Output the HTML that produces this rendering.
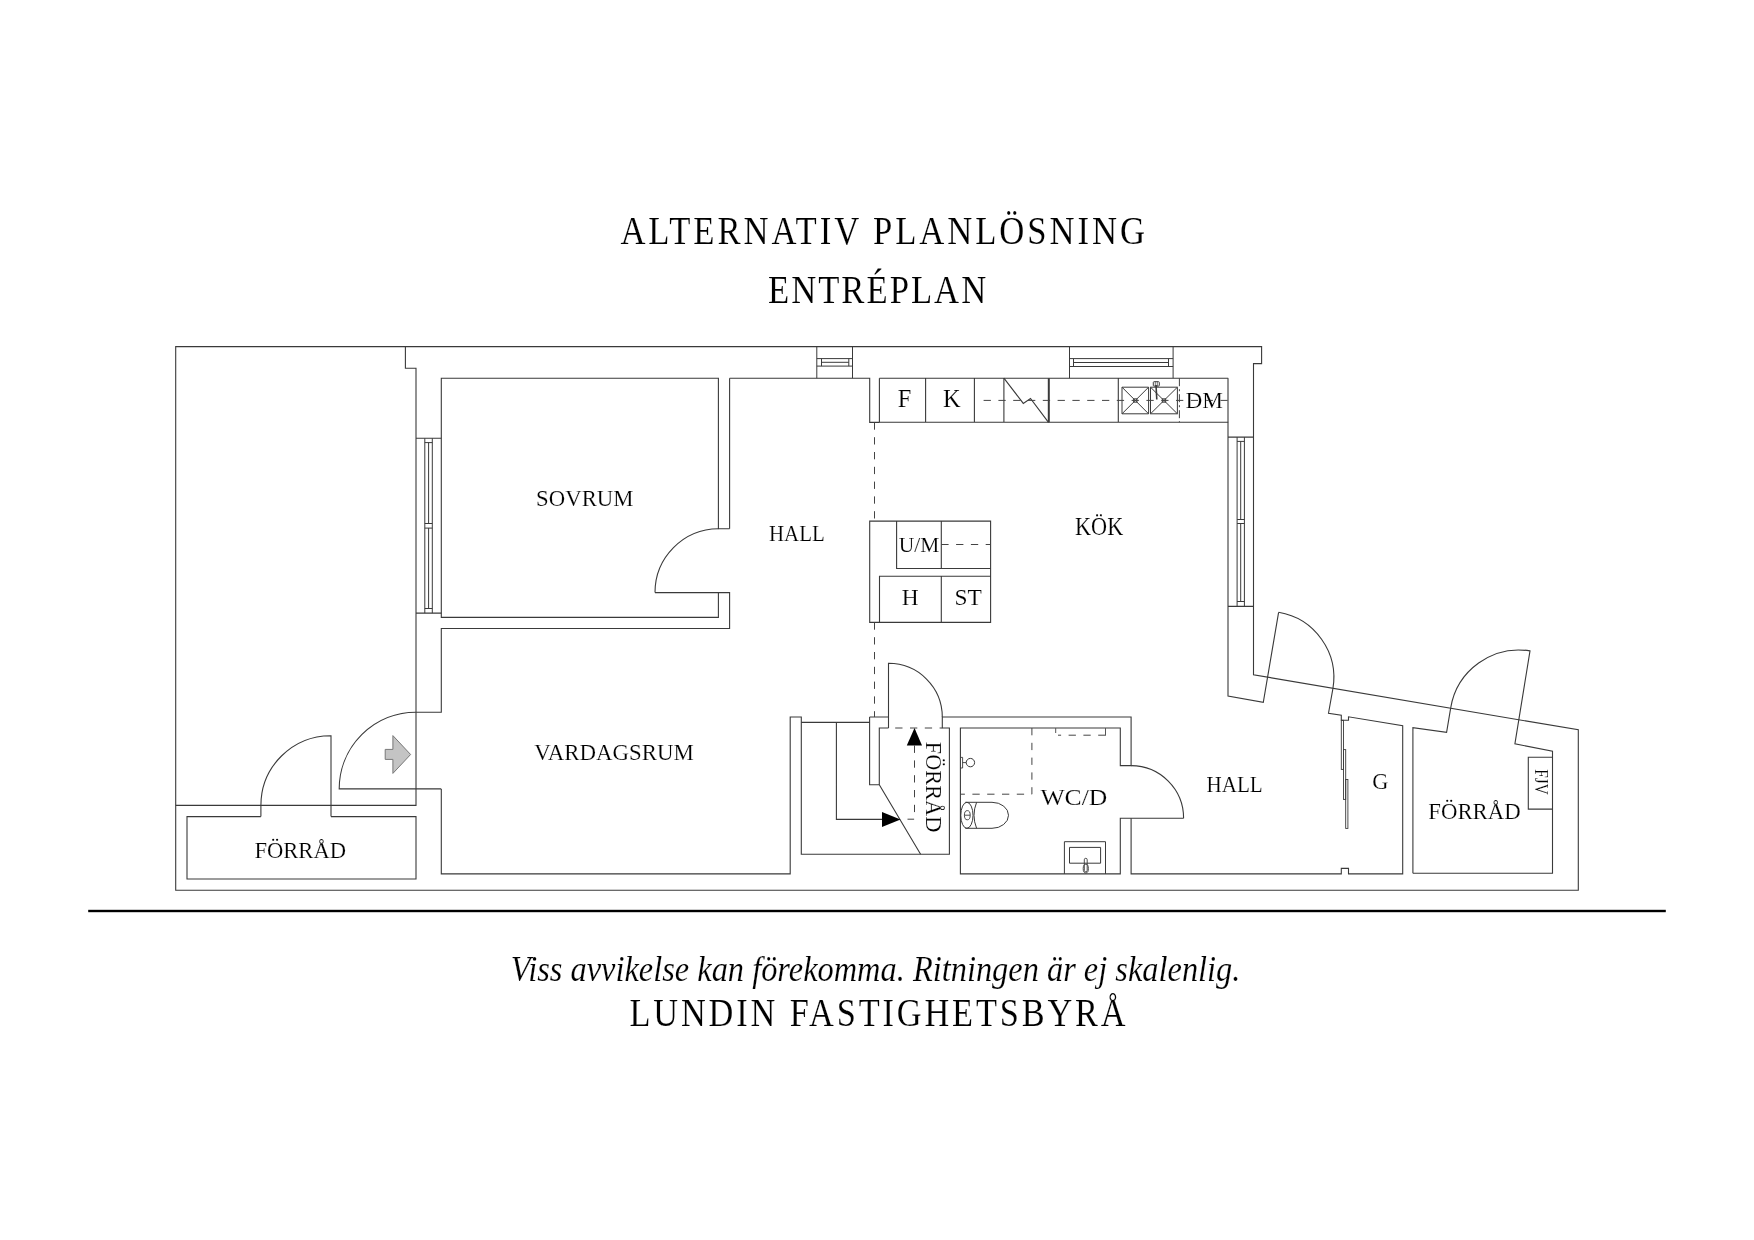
<!DOCTYPE html>
<html><head><meta charset="utf-8"><title>Planlösning</title>
<style>
html,body{margin:0;padding:0;background:#fff;width:1754px;height:1240px;overflow:hidden;}
svg{display:block;filter:grayscale(1);}
text{font-family:"Liberation Serif",serif;fill:#000;stroke:#fff;stroke-width:0.15px;}
.thin{opacity:0.999;}
</style></head><body>
<svg width="1754" height="1240" viewBox="0 0 1754 1240">
<rect x="0" y="0" width="1754" height="1240" fill="#fff"/>

<!-- TITLE -->
<text transform="scale(0.88,1)" x="705.0" y="244.2" font-size="39.4" textLength="596.1" lengthAdjust="spacing">ALTERNATIV PLANLÖSNING</text>
<text transform="scale(0.88,1)" x="872.7" y="303.4" font-size="39.4" textLength="248.0" lengthAdjust="spacing">ENTRÉPLAN</text>

<!-- WALLS -->
<g id="walls" fill="none" stroke="#3a3a3a" stroke-width="1.1" stroke-linejoin="miter">
<path d="M175.7,890.3 V346.6 H1261.6 V363.6 H1253.5 V674.8 L1578.3,729.8 V890.3 Z"/>
<path d="M405.4,346.6 V368.2 H416 V805.4 H175.7"/>
<!-- left forrad -->
<path d="M260.9,816.6 H187 V879 H416 V816.6 H331"/>
<path d="M331,816.6 V735.7 A69.8,69.8 0 0 0 260.9,805.4 V816.6"/>
<!-- entrance door -->
<path d="M441.3,788.9 H339.2 A76.8,76.8 0 0 1 416,712.2"/>
<!-- sovrum -->
<path d="M729.6,528.7 H718.4 V378.2 H441.3 V617.4 H718.4 V592.6"/>
<path d="M729.6,378.2 V528.7"/>
<path d="M655,592.6 A63.8,63.8 0 0 1 718.4,528.7"/>
<path d="M416,712.2 H441.3 V628.5 H729.6 V592.6 H655"/>
<!-- hall top -->
<path d="M729.6,378.2 H869.7 V422.4 H879.4"/>
<!-- left window -->
<path d="M416,438.3 H441.3 M416,613.1 H441.3"/>
<path d="M424.8,438.3 V613.1 M432.3,438.3 V613.1 M428.6,442.6 V523.5 M428.6,528.1 V608.5 M424.8,442.6 H432.3 M424.8,523.5 H432.3 M424.8,528.1 H432.3 M424.8,608.5 H432.3" stroke-width="1"/>
<!-- vardagsrum / stair / wc -->
<path d="M441.3,788.9 V873.9 H790.2 V717 H801.3 V854.3 H949.4 V728 H942.3 V717 H1131.1 V765.6 H1120.3 V728 H960.4 V873.9 H1120.3 V818.3 H1183.6"/>
<path d="M1131.1,765.6 A52.6,52.6 0 0 1 1183.6,818.3"/>
<path d="M1131.1,818.3 V873.9 H1341.3 V868.4 H1348.5 V873.9 H1402.7 V725.8 L1348.5,716.8 V720.3 H1341.3 V715.3 L1328.5,713.2 L1332.9,688.7"/>
<!-- right hall walls -->
<path d="M1228,378.2 V696 L1263.3,702.3 L1278.6,612.3"/>
<path d="M1278.6,612.3 A66.3,66.3 0 0 1 1332.9,688.7"/>
<!-- kitchen window -->
<path d="M1228,437.1 H1253.5 M1228,606.4 H1253.5"/>
<path d="M1237.1,437.1 V606.4 M1244.4,437.1 V606.4 M1240.7,441.4 V519.5 M1240.7,523.5 V601.5 M1237.1,441.4 H1244.4 M1237.1,519.5 H1244.4 M1237.1,523.5 H1244.4 M1237.1,601.5 H1244.4" stroke-width="1"/>
<!-- right forrad -->
<path d="M1412.9,873.2 V727.7 L1446.6,732.3 L1450.7,707.8"/>
<path d="M1450.7,707.8 A69.3,69.3 0 0 1 1530,650.9 L1514.9,743.8 L1552.5,751.2 V873.2 H1412.9"/>
<path d="M1552.5,757.3 H1528.3 V809.1 H1552.5"/>
<!-- G sliding doors -->
<rect x="1341.3" y="720.3" width="2.2" height="49.1" stroke-width="0.9"/>
<rect x="1343.5" y="749.6" width="2.2" height="49.8" stroke-width="0.9"/>
<rect x="1345.7" y="779.5" width="2.2" height="48.9" stroke-width="0.9"/>
<!-- top windows -->
<path d="M816.8,346.6 V378.2 M852.5,346.6 V378.2 M816.8,358.6 H852.5 M816.8,366.1 H852.5 M821.5,362.3 H848.8 M821.5,358.6 V366.1 M848.8,358.6 V366.1" stroke-width="1"/>
<path d="M1069.5,346.6 V378.2 M1173.1,346.6 V378.2 M1069.5,358.6 H1173.1 M1069.5,366.5 H1173.1 M1073.5,362.5 H1168.5 M1073.5,358.6 V366.5 M1168.5,358.6 V366.5" stroke-width="1"/>
<!-- counter -->
<path d="M879.4,378.2 H1228.2 M879.4,378.2 V422.3 H1228.2 M925.6,378.2 V422.3 M974.4,378.2 V422.3 M1003.9,378.2 V422.3 M1118.3,378.2 V422.3"/>
<path d="M1048.8,378.2 V422.3" stroke-width="2"/>
<path d="M1003.9,378.2 L1023.3,403.4 L1030.5,398.5 L1048.5,422.3"/>
<!-- sinks -->
<path d="M1122,387.2 H1148.6 V413.8 H1122 Z M1122,387.2 L1148.6,413.8 M1148.6,387.2 L1122,413.8 M1150.5,387.2 H1177.4 V413.8 H1150.5 Z M1150.5,387.2 L1177.4,413.8 M1177.4,387.2 L1150.5,413.8" stroke-width="1"/>
<rect x="1133.6" y="398.8" width="3.4" height="3.4" stroke-width="0.9"/>
<rect x="1162.3" y="398.8" width="3.4" height="3.4" stroke-width="0.9"/>
<rect x="1153.3" y="381.7" width="6" height="4.4" rx="0.8" stroke-width="1"/><path d="M1155.3,381.7 V386.1 M1157.3,381.7 V386.1" stroke-width="0.7"/>
<path d="M1156,385 L1156.8,399.5" stroke-width="1.6"/>
<!-- island -->
<path d="M869.7,521.1 H990.6 V622.4 H869.7 Z M896.6,521.1 V568.5 H990.6 M941.3,521.1 V568.5 M879.5,622.4 V576.3 H990.6 M941.3,576.3 V622.4"/>
<!-- stair / forrad in hall -->
<path d="M801.3,722.4 H869.6 M869.6,717 V784.8 H879.3 V728 H888.5 M888.5,728 V717 M869.6,717 H888.5 V663.3 A53.8,53.8 0 0 1 942.3,717 M879.3,784.8 L920.6,854.3 M836.4,722.4 V819.4 H884"/>
<!-- WC fixtures -->
<circle cx="970.4" cy="762.6" r="4.2" stroke-width="1"/>
<path d="M960.4,757.4 H962.6 V768 H960.4 M962.6,762.6 H966.2" stroke-width="0.9"/>
<ellipse cx="966.9" cy="815.3" rx="6.1" ry="13" stroke-width="1"/><ellipse cx="967.3" cy="815.2" rx="2.9" ry="4.6" stroke-width="0.9"/><path d="M964.4,815.2 H970.2" stroke-width="0.9"/>
<path d="M965.3,802.3 H992 A16.5,13 0 0 1 992,828.3 H965.3 M976.6,802.3 Q971.4,815.3 976.6,828.3" stroke-width="1"/>
<path d="M1064.4,873.9 V841.7 H1105.5 V873.9 M1069.5,847.4 H1100.6 V863.2 H1069.5 Z" stroke-width="1"/>
<rect x="1084.3" y="858.3" width="2.9" height="13.5" rx="1.45" stroke-width="0.9"/><ellipse cx="1085.8" cy="868.6" rx="2.6" ry="4.4" stroke-width="0.9"/>
</g>

<!-- dashed lines -->
<g fill="none" stroke="#444" stroke-width="1" stroke-dasharray="7.3,7.5">
<path d="M874.5,422.4 V521.1"/>
<path d="M874.5,622.4 V717"/>
<path d="M983.6,400.4 H1228"/>
<path d="M941.3,544.5 H990.6"/>
<path d="M895.2,728 H942.3"/>
<path d="M914.5,745.6 V819.2 H907.5"/>
<path d="M1031.9,728 V794.2 H960.4"/>
<path d="M1105.5,735.2 H1058"/>
<path d="M1179.4,378.2 V422.3" stroke-dasharray="8,3,2,3"/>
</g>
<path d="M1055.7,728 V733 M1105.5,728 V735.6" stroke="#555" stroke-width="1" fill="none"/>

<!-- arrows -->
<polygon points="882,812 900.5,819.4 882,827" fill="#000"/>
<polygon points="914.5,728 922,745.6 906.8,745.6" fill="#000"/>
<polygon points="392.9,735.6 410.6,754.5 392.9,773.4 392.9,759.4 385.2,759.4 385.2,749.4 392.9,749.4" fill="#c4c4c0" stroke="#777" stroke-width="1"/>

<!-- LABELS -->
<g font-size="23.7">
<text x="536.1" y="505.9" textLength="97.4" lengthAdjust="spacingAndGlyphs">SOVRUM</text>
<text x="769" y="540.6" textLength="55.7" lengthAdjust="spacingAndGlyphs">HALL</text>
<text x="1075" y="534.9" textLength="48.2" lengthAdjust="spacingAndGlyphs" font-size="24.4">KÖK</text>
<text x="534.3" y="759.9" textLength="159.6" lengthAdjust="spacingAndGlyphs">VARDAGSRUM</text>
<text x="1206.5" y="791.8" textLength="56.2" lengthAdjust="spacingAndGlyphs">HALL</text>
<text x="254.4" y="857.9" textLength="91.6" lengthAdjust="spacingAndGlyphs">FÖRRÅD</text>
<text x="1428.3" y="819.3" textLength="92.3" lengthAdjust="spacingAndGlyphs">FÖRRÅD</text>
<text x="1040.4" y="805" textLength="66.9" lengthAdjust="spacingAndGlyphs" font-size="22.3">WC/D</text>
<text x="1380.2" y="789.3" text-anchor="middle" font-size="22.3">G</text>
<text x="904.5" y="407.3" text-anchor="middle" font-size="24.4">F</text>
<text x="951.8" y="407.3" text-anchor="middle" font-size="24.4">K</text>
<text x="1185.5" y="407.5" textLength="37.5" lengthAdjust="spacingAndGlyphs" font-size="23">DM</text>
<text x="898.7" y="552.4" textLength="40.6" lengthAdjust="spacingAndGlyphs" font-size="20.5">U/M</text>
<text x="910.3" y="604.6" text-anchor="middle" font-size="23.4">H</text>
<text x="968.2" y="604.6" text-anchor="middle" font-size="23.4">ST</text>
<text transform="translate(926.3,741.8) rotate(90)" x="0" y="0" textLength="90.5" lengthAdjust="spacingAndGlyphs" font-size="24">FÖRRÅD</text>
<text transform="translate(1535,769.3) rotate(90)" x="0" y="0" textLength="25.3" lengthAdjust="spacingAndGlyphs" font-size="18.3">FJV</text>
</g>

<!-- RULE -->
<rect x="88.2" y="909.8" width="1577.6" height="2.4" fill="#000"/>

<!-- FOOTER -->
<text x="510.8" y="981.2" font-size="34.8" font-style="italic" textLength="729.6" lengthAdjust="spacingAndGlyphs">Viss avvikelse kan förekomma. Ritningen är ej skalenlig.</text>
<text transform="scale(0.88,1)" x="715.3" y="1026.2" font-size="39" textLength="563.8" lengthAdjust="spacing">LUNDIN FASTIGHETSBYRÅ</text>
</svg>
</body></html>
